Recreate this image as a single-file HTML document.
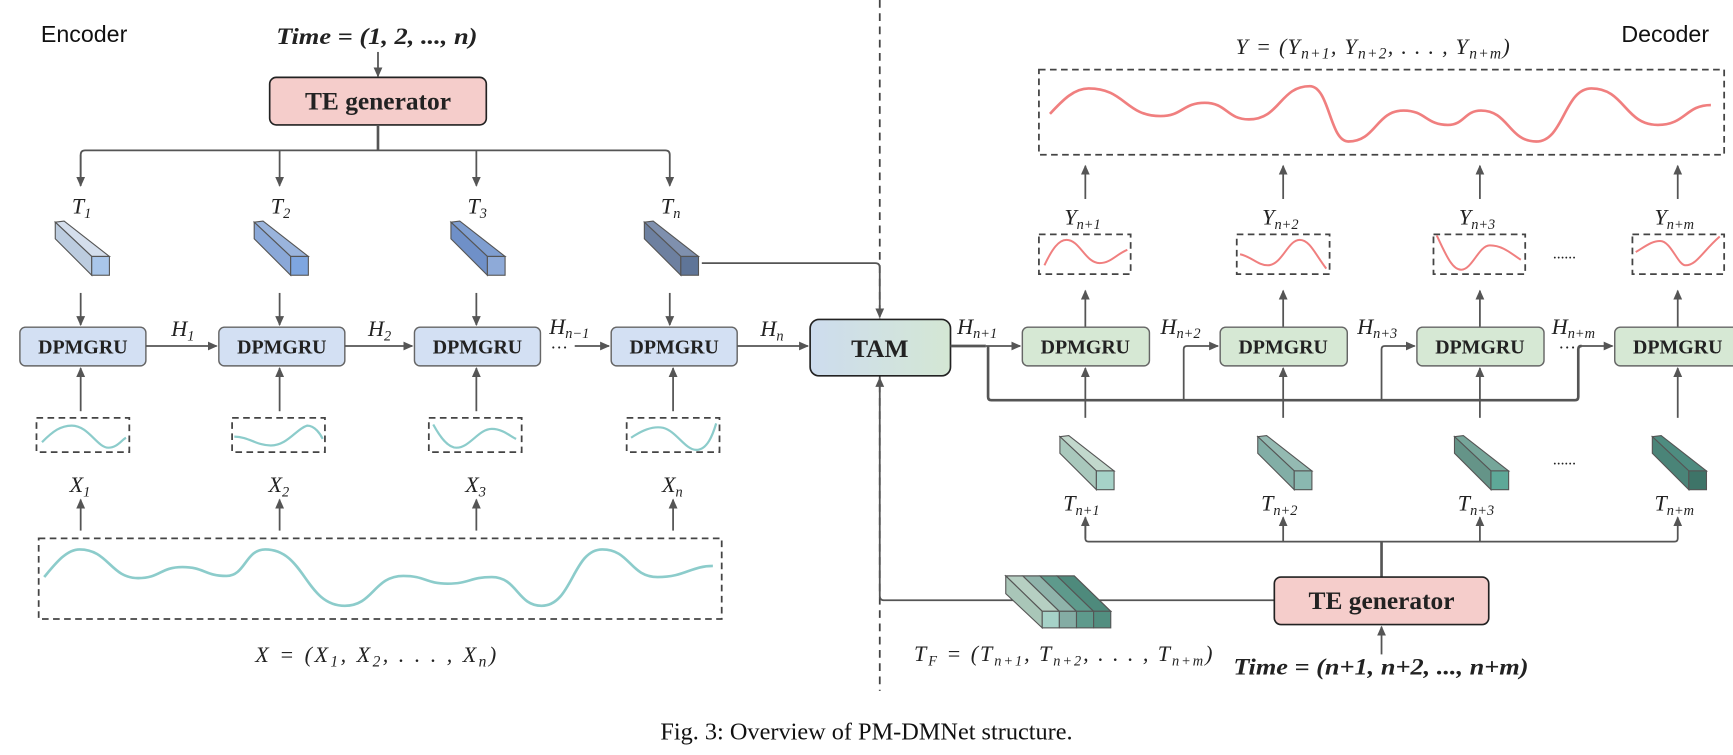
<!DOCTYPE html>
<html><head><meta charset="utf-8"><style>
html,body{margin:0;padding:0;background:#fff;}
svg{display:block;}
.s{font-family:"Liberation Serif",serif;}
.m{font-family:"Liberation Serif",serif;font-style:italic;font-size:20px;fill:#222;}
.b{font-family:"Liberation Serif",serif;font-weight:bold;fill:#222;}
.ln{stroke:#555;stroke-width:1.6;fill:none;}
.bus{stroke:#555;stroke-width:2.4;fill:none;}
.dash{stroke:#444;stroke-width:1.6;fill:none;stroke-dasharray:6 4;}
</style></head><body>
<svg width="1733" height="755" viewBox="0 0 1568 683" preserveAspectRatio="none" xmlns="http://www.w3.org/2000/svg">
<defs>
<marker id="a" markerWidth="10" markerHeight="10" refX="8" refY="5" orient="auto" markerUnits="userSpaceOnUse"><path d="M0,1 L9,5 L0,9 Z" fill="#555"/></marker>
<linearGradient id="tam" x1="0" x2="1"><stop offset="0" stop-color="#cddcee"/><stop offset="1" stop-color="#d4e7d4"/></linearGradient>
</defs>

<line x1="796" y1="0" x2="796" y2="625" stroke="#444" stroke-width="1.6" stroke-dasharray="7 5"/>

<!-- ENCODER -->
<text x="37" y="38" font-family="Liberation Sans, sans-serif" font-size="21" fill="#111">Encoder</text>
<text x="250" y="40" textLength="182" lengthAdjust="spacingAndGlyphs" class="b" font-style="italic" font-size="21">Time = (1, 2, ..., n)</text>
<line class="ln" x1="342" y1="47" x2="342" y2="69" marker-end="url(#a)"/>
<rect x="244" y="70" width="196" height="43" rx="6" fill="#f5cdcb" stroke="#222" stroke-width="1.5"/>
<text x="342" y="99" text-anchor="middle" class="b" font-size="23">TE generator</text>
<path class="bus" d="M342,113 V136"/>
<path class="ln" d="M73,168 V140 Q73,136 77,136 H602 Q606,136 606,140 V168" marker-end="url(#a)"/>
<line class="ln" x1="73" y1="140" x2="73" y2="168" marker-end="url(#a)"/>
<line class="ln" x1="253" y1="136" x2="253" y2="168" marker-end="url(#a)"/>
<line class="ln" x1="431" y1="136" x2="431" y2="168" marker-end="url(#a)"/>

<text x="65" y="193" class="m">T<tspan font-size="13" dy="4">1</tspan></text>
<text x="245" y="193" class="m">T<tspan font-size="13" dy="4">2</tspan></text>
<text x="423" y="193" class="m">T<tspan font-size="13" dy="4">3</tspan></text>
<text x="598" y="193" class="m">T<tspan font-size="13" dy="4">n</tspan></text>

<g stroke="#555" stroke-width="1">
<g transform="translate(73,0)">
<polygon points="-23,201 -15,200 26,232 10,232" fill="#d4deec"/>
<polygon points="-23,201 10,232 10,249 -23,216" fill="#bcccdf"/>
<rect x="10" y="232" width="16" height="17" fill="#a9c6ea"/></g>
<g transform="translate(253,0)">
<polygon points="-23,201 -15,200 26,232 10,232" fill="#9ab4dc"/>
<polygon points="-23,201 10,232 10,249 -23,216" fill="#8aa8d8"/>
<rect x="10" y="232" width="16" height="17" fill="#7ea6e0"/></g>
<g transform="translate(431,0)">
<polygon points="-23,201 -15,200 26,232 10,232" fill="#7f9ed0"/>
<polygon points="-23,201 10,232 10,249 -23,216" fill="#6f90c8"/>
<rect x="10" y="232" width="16" height="17" fill="#8eaad8"/></g>
<g transform="translate(606,0)">
<polygon points="-23,201 -15,200 26,232 10,232" fill="#7f90ae"/>
<polygon points="-23,201 10,232 10,249 -23,216" fill="#6d80a0"/>
<rect x="10" y="232" width="16" height="17" fill="#5f7598"/></g>
</g>

<line class="ln" x1="73" y1="265" x2="73" y2="294" marker-end="url(#a)"/>
<line class="ln" x1="253" y1="265" x2="253" y2="294" marker-end="url(#a)"/>
<line class="ln" x1="431" y1="265" x2="431" y2="294" marker-end="url(#a)"/>
<line class="ln" x1="606" y1="265" x2="606" y2="294" marker-end="url(#a)"/>

<g fill="#d3e0f3" stroke="#666" stroke-width="1.3">
<rect x="18" y="296" width="114" height="35" rx="5"/>
<rect x="198" y="296" width="114" height="35" rx="5"/>
<rect x="375" y="296" width="114" height="35" rx="5"/>
<rect x="553" y="296" width="114" height="35" rx="5"/>
</g>
<g class="b" font-size="18" text-anchor="middle">
<text x="75" y="320">DPMGRU</text><text x="255" y="320">DPMGRU</text>
<text x="432" y="320">DPMGRU</text><text x="610" y="320">DPMGRU</text>
</g>
<line class="ln" x1="132" y1="313" x2="196" y2="313" marker-end="url(#a)"/>
<line class="ln" x1="312" y1="313" x2="373" y2="313" marker-end="url(#a)"/>
<line class="ln" x1="520" y1="313" x2="551" y2="313" marker-end="url(#a)"/>
<line class="ln" x1="667" y1="313" x2="731" y2="313" marker-end="url(#a)"/>
<text x="498" y="320" font-size="16" class="s" fill="#222">···</text>
<text x="155" y="304" class="m">H<tspan font-size="13" dy="4">1</tspan></text>
<text x="333" y="304" class="m">H<tspan font-size="13" dy="4">2</tspan></text>
<text x="497" y="302" class="m">H<tspan font-size="13" dy="4">n−1</tspan></text>
<text x="688" y="304" class="m">H<tspan font-size="13" dy="4">n</tspan></text>

<rect x="733" y="289" width="127" height="51" rx="8" fill="url(#tam)" stroke="#222" stroke-width="1.5"/>
<text x="796" y="323" text-anchor="middle" class="b" font-size="23">TAM</text>
<path class="ln" d="M635,238 H792 Q796,238 796,242 V287" marker-end="url(#a)"/>
<path class="ln" d="M1153,543 H800 Q796,543 796,539 V342" marker-end="url(#a)"/>

<line class="ln" x1="73" y1="372" x2="73" y2="333" marker-end="url(#a)"/>
<line class="ln" x1="253" y1="372" x2="253" y2="333" marker-end="url(#a)"/>
<line class="ln" x1="431" y1="372" x2="431" y2="333" marker-end="url(#a)"/>
<line class="ln" x1="609" y1="372" x2="609" y2="333" marker-end="url(#a)"/>
<rect class="dash" x="33" y="378" width="84" height="31"/>
<rect class="dash" x="210" y="378" width="84" height="31"/>
<rect class="dash" x="388" y="378" width="84" height="31"/>
<rect class="dash" x="567" y="378" width="84" height="31"/>
<g stroke="#8ccccb" stroke-width="2" fill="none">
<path d="M38,400 C48,390 55,385 65,385 C80,385 88,405 98,405 C106,405 110,398 114,396"/>
<path d="M212,395 C225,395 232,403 245,403 C260,403 268,388 278,385 C285,385 290,393 292,397"/>
<path d="M392,384 C398,395 405,405 413,405 C425,405 433,388 445,388 C455,388 462,395 467,397"/>
<path d="M571,396 C580,390 590,385 600,387 C612,390 620,407 630,407 C640,407 645,393 648,383"/>
</g>
<text x="63" y="445" class="m">X<tspan font-size="13" dy="4">1</tspan></text>
<text x="243" y="445" class="m">X<tspan font-size="13" dy="4">2</tspan></text>
<text x="421" y="445" class="m">X<tspan font-size="13" dy="4">3</tspan></text>
<text x="599" y="445" class="m">X<tspan font-size="13" dy="4">n</tspan></text>
<line class="ln" x1="73" y1="480" x2="73" y2="452" marker-end="url(#a)"/>
<line class="ln" x1="253" y1="480" x2="253" y2="452" marker-end="url(#a)"/>
<line class="ln" x1="431" y1="480" x2="431" y2="452" marker-end="url(#a)"/>
<line class="ln" x1="609" y1="480" x2="609" y2="452" marker-end="url(#a)"/>
<rect class="dash" x="35" y="487" width="618" height="73"/>
<path stroke="#8ccccb" stroke-width="2.4" fill="none" d="M40,522 C50,510 60,497 72,497 C98,497 100,523 125,523 C145,523 145,513 165,513 C185,513 185,521 205,521 C222,521 222,497 240,497 C276,497 276,548 312,548 C338,548 338,521 365,521 C385,521 385,528 405,528 C425,528 425,522 445,522 C468,522 468,548 490,548 C518,548 518,497 545,497 C570,497 570,522 595,522 C620,522 625,512 645,512"/>
<text x="231" y="599" textLength="218" lengthAdjust="spacing" class="m" font-size="21">X = (X<tspan font-size="14" dy="4">1</tspan><tspan dy="-4">, X</tspan><tspan font-size="14" dy="4">2</tspan><tspan dy="-4">, . . . , X</tspan><tspan font-size="14" dy="4">n</tspan><tspan dy="-4">)</tspan></text>

<!-- DECODER -->
<text x="1467" y="38" font-family="Liberation Sans, sans-serif" font-size="21" fill="#111">Decoder</text>
<text x="1118" y="49" textLength="248" lengthAdjust="spacing" class="m" font-size="21">Y = (Y<tspan font-size="14" dy="4">n+1</tspan><tspan dy="-4">, Y</tspan><tspan font-size="14" dy="4">n+2</tspan><tspan dy="-4">, . . . , Y</tspan><tspan font-size="14" dy="4">n+m</tspan><tspan dy="-4">)</tspan></text>
<rect class="dash" x="940" y="63" width="620" height="77"/>
<path stroke="#f07f7f" stroke-width="2.4" fill="none" d="M950,103 C962,90 972,80 985,80 C1018,80 1018,105 1050,105 C1070,105 1070,93 1090,93 C1110,93 1110,108 1130,108 C1158,108 1158,78 1185,78 C1203,78 1203,128 1220,128 C1245,128 1245,100 1270,100 C1290,100 1290,113 1310,113 C1325,113 1325,100 1340,100 C1365,100 1365,128 1390,128 C1415,128 1415,80 1440,80 C1470,80 1470,113 1500,113 C1525,113 1525,95 1548,95"/>
<line class="ln" x1="982" y1="180" x2="982" y2="150" marker-end="url(#a)"/>
<line class="ln" x1="1161" y1="180" x2="1161" y2="150" marker-end="url(#a)"/>
<line class="ln" x1="1339" y1="180" x2="1339" y2="150" marker-end="url(#a)"/>
<line class="ln" x1="1518" y1="180" x2="1518" y2="150" marker-end="url(#a)"/>
<text x="963" y="203" class="m">Y<tspan font-size="13" dy="4">n+1</tspan></text>
<text x="1142" y="203" class="m">Y<tspan font-size="13" dy="4">n+2</tspan></text>
<text x="1320" y="203" class="m">Y<tspan font-size="13" dy="4">n+3</tspan></text>
<text x="1497" y="203" class="m">Y<tspan font-size="13" dy="4">n+m</tspan></text>
<rect class="dash" x="940" y="212" width="83" height="36"/>
<rect class="dash" x="1119" y="212" width="84" height="36"/>
<rect class="dash" x="1297" y="212" width="83" height="36"/>
<rect class="dash" x="1477" y="212" width="83" height="36"/>
<g stroke="#f07f7f" stroke-width="1.8" fill="none">
<path d="M945,240 C952,225 958,217 965,217 C977,217 982,238 995,238 C1005,238 1010,230 1020,226"/>
<path d="M1122,230 C1132,232 1138,240 1147,240 C1160,240 1165,217 1176,217 C1185,217 1190,230 1200,243"/>
<path d="M1300,213 C1310,235 1315,244 1322,244 C1332,244 1338,222 1348,222 C1360,222 1368,230 1376,235"/>
<path d="M1480,228 C1490,222 1495,218 1502,218 C1512,218 1518,240 1525,240 C1535,240 1540,228 1556,214"/>
</g>
<text x="1405" y="234" font-size="14" class="s" fill="#222">......</text>
<line class="ln" x1="982" y1="296" x2="982" y2="263" marker-end="url(#a)"/>
<line class="ln" x1="1161" y1="296" x2="1161" y2="263" marker-end="url(#a)"/>
<line class="ln" x1="1339" y1="296" x2="1339" y2="263" marker-end="url(#a)"/>
<line class="ln" x1="1518" y1="296" x2="1518" y2="263" marker-end="url(#a)"/>

<g fill="#d6e8d4" stroke="#666" stroke-width="1.3">
<rect x="925" y="296" width="115" height="35" rx="5"/>
<rect x="1104" y="296" width="115" height="35" rx="5"/>
<rect x="1282" y="296" width="115" height="35" rx="5"/>
<rect x="1461" y="296" width="115" height="35" rx="5"/>
</g>
<g class="b" font-size="18" text-anchor="middle">
<text x="982" y="320">DPMGRU</text><text x="1161" y="320">DPMGRU</text>
<text x="1339" y="320">DPMGRU</text><text x="1518" y="320">DPMGRU</text>
</g>
<path class="bus" d="M860,313 H892"/>
<line class="ln" x1="892" y1="313" x2="923" y2="313" marker-end="url(#a)"/>
<path class="bus" d="M894,313 V359 Q894,362 897,362 H1425 Q1428,362 1428,359 V316 Q1428,313 1431,313"/>
<path class="ln" d="M1071,362 V316 Q1071,313 1074,313 H1102" marker-end="url(#a)"/>
<path class="ln" d="M1250,362 V316 Q1250,313 1253,313 H1280" marker-end="url(#a)"/>
<line class="ln" x1="1430" y1="313" x2="1459" y2="313" marker-end="url(#a)"/>
<text x="1410" y="320" font-size="16" class="s" fill="#222">···</text>
<text x="866" y="302" class="m">H<tspan font-size="13" dy="4">n+1</tspan></text>
<text x="1050" y="302" class="m">H<tspan font-size="13" dy="4">n+2</tspan></text>
<text x="1228" y="302" class="m">H<tspan font-size="13" dy="4">n+3</tspan></text>
<text x="1404" y="302" class="m">H<tspan font-size="13" dy="4">n+m</tspan></text>

<line class="ln" x1="982" y1="378" x2="982" y2="333" marker-end="url(#a)"/>
<line class="ln" x1="1161" y1="378" x2="1161" y2="333" marker-end="url(#a)"/>
<line class="ln" x1="1339" y1="378" x2="1339" y2="333" marker-end="url(#a)"/>
<line class="ln" x1="1518" y1="378" x2="1518" y2="333" marker-end="url(#a)"/>

<g stroke="#555" stroke-width="1">
<g transform="translate(982,194)">
<polygon points="-23,201 -15,200 26,232 10,232" fill="#c2d8cc"/>
<polygon points="-23,201 10,232 10,249 -23,216" fill="#a9c8bc"/>
<rect x="10" y="232" width="16" height="17" fill="#a6d2c8"/></g>
<g transform="translate(1161,194)">
<polygon points="-23,201 -15,200 26,232 10,232" fill="#94bab2"/>
<polygon points="-23,201 10,232 10,249 -23,216" fill="#82aea6"/>
<rect x="10" y="232" width="16" height="17" fill="#8ab8b0"/></g>
<g transform="translate(1339,194)">
<polygon points="-23,201 -15,200 26,232 10,232" fill="#76a69a"/>
<polygon points="-23,201 10,232 10,249 -23,216" fill="#659488"/>
<rect x="10" y="232" width="16" height="17" fill="#5ea898"/></g>
<g transform="translate(1518,194)">
<polygon points="-23,201 -15,200 26,232 10,232" fill="#4e8c80"/>
<polygon points="-23,201 10,232 10,249 -23,216" fill="#4a8478"/>
<rect x="10" y="232" width="16" height="17" fill="#3e7468"/></g>
</g>
<text x="1405" y="420" font-size="14" class="s" fill="#222">......</text>
<text x="962" y="462" class="m">T<tspan font-size="13" dy="4">n+1</tspan></text>
<text x="1141" y="462" class="m">T<tspan font-size="13" dy="4">n+2</tspan></text>
<text x="1319" y="462" class="m">T<tspan font-size="13" dy="4">n+3</tspan></text>
<text x="1497" y="462" class="m">T<tspan font-size="13" dy="4">n+m</tspan></text>
<path class="ln" d="M982,468 V487 Q982,490 985,490 H1515 Q1518,490 1518,487 V468" marker-end="url(#a)"/>
<line class="ln" x1="982" y1="487" x2="982" y2="468" marker-end="url(#a)"/>
<line class="ln" x1="1161" y1="490" x2="1161" y2="468" marker-end="url(#a)"/>
<line class="ln" x1="1339" y1="490" x2="1339" y2="468" marker-end="url(#a)"/>
<path class="bus" d="M1250,522 V490"/>

<g stroke="#555" stroke-width="1">
<polygon points="910,521 972,521 1005,553 943,553" fill="#6aa094"/>
<polygon points="910,521 925.5,521 958.5,553 943,553" fill="#b6cfc2"/>
<polygon points="925.5,521 941,521 974,553 958.5,553" fill="#8fb3aa"/>
<polygon points="941,521 956.5,521 989.5,553 974,553" fill="#5e9a8c"/>
<polygon points="956.5,521 972,521 1005,553 989.5,553" fill="#4e8a7c"/>
<polygon points="910,521 943,553 943,568 910,537" fill="#a9c6b8"/>
<rect x="943" y="553" width="15.5" height="15" fill="#a6d2c8"/>
<rect x="958.5" y="553" width="15.5" height="15" fill="#84aca4"/>
<rect x="974" y="553" width="15.5" height="15" fill="#5e9a8c"/>
<rect x="989.5" y="553" width="15.5" height="15" fill="#528e80"/>
</g>
<text x="827" y="598" textLength="270" lengthAdjust="spacing" class="m" font-size="20">T<tspan font-size="13" dy="4">F</tspan><tspan dy="-4"> = (T</tspan><tspan font-size="13" dy="4">n+1</tspan><tspan dy="-4">, T</tspan><tspan font-size="13" dy="4">n+2</tspan><tspan dy="-4">, . . . , T</tspan><tspan font-size="13" dy="4">n+m</tspan><tspan dy="-4">)</tspan></text>

<rect x="1153" y="522" width="194" height="43" rx="6" fill="#f5cdcb" stroke="#222" stroke-width="1.5"/>
<text x="1250" y="551" text-anchor="middle" class="b" font-size="23">TE generator</text>
<line class="ln" x1="1250" y1="592" x2="1250" y2="567" marker-end="url(#a)"/>
<text x="1116" y="610" textLength="267" lengthAdjust="spacingAndGlyphs" class="b" font-style="italic" font-size="21">Time = (n+1, n+2, ..., n+m)</text>

<text x="784" y="669" text-anchor="middle" class="s" font-size="22" fill="#111">Fig. 3: Overview of PM-DMNet structure.</text>
</svg>
</body></html>
